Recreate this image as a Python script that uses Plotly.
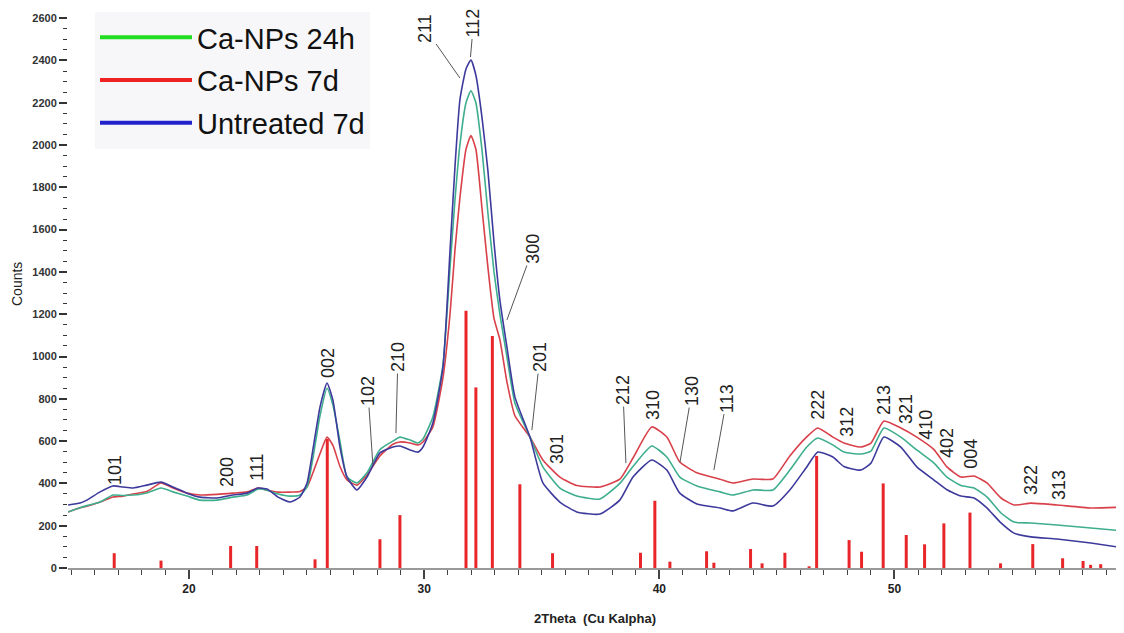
import plotly.graph_objects as go

# ---------------- data ----------------
two_theta = [14.86, 15.37, 15.66, 16.22, 16.77, 17.19, 17.62, 18.21, 18.81, 19.32,
             19.92, 20.47, 21.19, 21.87, 22.47, 22.93, 23.32, 23.79, 24.30, 24.72,
             25.02, 25.27, 25.57, 25.87, 26.12, 26.42, 26.72, 27.14, 27.57, 28.12,
             28.67, 28.97, 29.40, 29.74, 29.95, 30.37, 30.80, 31.10, 31.31, 31.52,
             31.78, 31.99, 32.20, 32.46, 32.71, 32.97, 33.22, 33.52, 33.86, 34.50,
             35.05, 35.77, 36.49, 37.47, 38.32, 38.88, 39.68, 40.32, 40.87, 41.60,
             42.58, 43.13, 43.98, 44.83, 45.55, 46.27, 46.74, 47.38, 47.85, 48.57,
             49.00, 49.55, 50.27, 50.95, 51.68, 52.23, 52.83, 53.38, 53.93, 54.53,
             55.08, 55.80, 56.91, 58.35, 59.76]

untreated_7d = [298, 307, 321, 360, 388, 383, 378, 392, 406, 383,
                354, 335, 331, 345, 354, 378, 373, 335, 312, 336,
                402, 560, 761, 875, 794, 572, 430, 369, 430, 544,
                572, 577, 558, 548, 572, 686, 950, 1500, 1896, 2213,
                2360, 2402, 2330, 2130, 1880, 1540, 1267, 1045, 808, 619,
                402, 312, 265, 255, 321, 430, 511, 463, 354, 303,
                284, 270, 307, 293, 369, 478, 548, 525, 480, 463,
                496, 619, 572, 478, 416, 370, 340, 331, 284, 213,
                165, 147, 137, 118, 95]

ca_nps_24h = [265, 285, 295, 312, 345, 343, 345, 355, 378, 360,
              340, 321, 321, 335, 345, 373, 368, 350, 340, 345,
              383, 520, 720, 850, 770, 600, 430, 402, 450, 560,
              600, 619, 605, 591, 610, 714, 960, 1420, 1740, 2000,
              2200, 2257, 2200, 1976, 1680, 1400, 1200, 1000, 780, 619,
              478, 378, 340, 326, 400, 480, 577, 525, 430, 388,
              360, 345, 369, 369, 463, 572, 615, 582, 548, 539,
              553, 662, 619, 558, 496, 430, 390, 378, 336, 260,
              217, 213, 203, 189, 175]

ca_nps_7d = [265, 285, 292, 312, 336, 340, 350, 362, 402, 378,
             354, 345, 348, 354, 360, 378, 368, 359, 359, 362,
             383, 450, 540, 619, 580, 480, 416, 392, 440, 530,
             585, 596, 591, 582, 596, 667, 900, 1200, 1503, 1750,
             1980, 2045, 1980, 1700, 1423, 1180, 1080, 880, 720, 619,
             511, 430, 390, 383, 420, 520, 667, 619, 501, 450,
             420, 402, 421, 421, 530, 620, 662, 619, 591, 572,
             591, 695, 662, 619, 560, 478, 430, 435, 402, 331,
             298, 307, 298, 284, 288]

# reference pattern sticks
ref_pos = [16.82, 18.81, 21.77, 22.88, 25.36, 25.88, 28.12, 28.97, 31.78, 32.20,
           32.90, 34.07, 35.46, 39.20, 39.81, 40.45, 42.01, 42.32, 43.88, 44.37,
           45.34, 46.37, 46.69, 48.07, 48.60, 49.52, 50.50, 51.28, 52.10, 53.21,
           54.51, 55.88, 57.15, 58.02, 58.34, 58.77]
ref_int = [70, 35, 104, 104, 41, 610, 136, 250, 1217, 854,
           1097, 396, 70, 72, 318, 30, 79, 25, 90, 22,
           72, 8, 530, 132, 77, 400, 156, 112, 211, 262,
           22, 113, 46, 33, 15, 18]

# hkl labels without leader line: (label, 2theta, counts at label centre)
hkl_plain = ["101", "200", "111", "002", "301", "310", "222", "312", "213",
             "321", "410", "402", "004", "322", "313"]
hkl_plain_x = [16.85, 21.62, 22.89, 25.91, 35.65, 39.73, 46.74, 47.97, 49.55,
               50.49, 51.33, 52.23, 53.24, 55.80, 56.99]
hkl_plain_y = [463, 454, 478, 969, 563, 771, 771, 690, 794,
               752, 676, 591, 539, 416, 392]

# hkl labels with a leader line: tip of line (2theta, counts)
hkl_lead = ["102", "210", "211", "112", "300", "201", "212", "130", "113"]
hkl_lead_x = [27.82, 28.80, 31.52, 31.97, 33.52, 34.58, 38.58, 40.88, 42.32]
hkl_lead_y = [487, 638, 2317, 2416, 1173, 652, 496, 501, 463]

series_names = ["Ca-NPs 24h", "Ca-NPs 7d", "Untreated 7d"]

# ---------------- styles ----------------
FONT = "Liberation Sans, Arial, sans-serif"
curve_colors = {"Ca-NPs 7d": "#d8404a", "Ca-NPs 24h": "#3fae8e", "Untreated 7d": "#3d3a9c"}
legend_colors = {"Ca-NPs 24h": "#22dd22", "Ca-NPs 7d": "#ee2222", "Untreated 7d": "#2222cc"}
# leader line offsets (px) from tip to label centre
lead_ax = [-5, 2, -35, 3, 26, 8, -3, 12, 13]
lead_ay = [-74, -76, -50, -34, -71, -73, -73, -71, -72]

# page body has an 8px margin: plot area sits at page x 68..1124, y 8..568
W, H = 1116, 625
ML, MB = 60, 65
PW, PH = W - ML, H - MB

fig = go.Figure()

# reference sticks
sx, sy = [], []
for p, h in zip(ref_pos, ref_int):
    sx += [p, p, None]
    sy += [0, h, None]
fig.add_trace(go.Scatter(x=sx, y=sy, mode="lines", showlegend=False,
                         line=dict(color="#e8262a", width=3), hoverinfo="skip"))

curves = {"Ca-NPs 7d": ca_nps_7d, "Ca-NPs 24h": ca_nps_24h, "Untreated 7d": untreated_7d}
for name in ["Ca-NPs 7d", "Ca-NPs 24h", "Untreated 7d"]:
    fig.add_trace(go.Scatter(x=two_theta, y=curves[name], mode="lines", name=name,
                             showlegend=False,
                             line=dict(color=curve_colors[name], width=1.6,
                                       shape="spline", smoothing=0.5)))

# legend entries
for name in series_names:
    fig.add_trace(go.Scatter(x=[None], y=[None], mode="lines", name=name,
                             legendgroup=name,
                             line=dict(color=legend_colors[name], width=4)))

annotations = []
for t, x, y in zip(hkl_plain, hkl_plain_x, hkl_plain_y):
    annotations.append(dict(x=x, y=y, text=t, showarrow=False, textangle=-90,
                            xanchor="center", yanchor="middle",
                            font=dict(family=FONT, size=18, color="#222")))
for t, x, y, ax, ay in zip(hkl_lead, hkl_lead_x, hkl_lead_y, lead_ax, lead_ay):
    annotations.append(dict(x=x, y=y, text=t, showarrow=True, arrowhead=0,
                            arrowwidth=1, arrowcolor="#555", ax=ax, ay=ay,
                            textangle=-90, standoff=0,
                            font=dict(family=FONT, size=18, color="#222")))
annotations.append(dict(xref="paper", yref="paper", x=(595 - 68) / PW, y=-(618 - 568) / PH,
                        xanchor="center", yanchor="middle",
                        text="2Theta\u00a0\u00a0(Cu Kalpha)", showarrow=False,
                        font=dict(family=FONT, size=13, color="#222", weight="bold")))
annotations.append(dict(xref="paper", yref="paper", x=-(68 - 17) / PW, y=(568 - 284) / PH,
                        xanchor="center", yanchor="middle",
                        text="Counts", showarrow=False, textangle=-90,
                        font=dict(family=FONT, size=14, color="#222")))

fig.update_layout(
    width=W, height=H,
    margin=dict(l=ML, r=0, t=0, b=MB, autoexpand=False),
    plot_bgcolor="white", paper_bgcolor="white",
    showlegend=True,
    legend=dict(x=(95 - 68) / PW, y=1 - 4 / PH, xanchor="left", yanchor="top",
                bgcolor="#f7f7f9", font=dict(family=FONT, size=29, color="#111"),
                itemwidth=92, tracegroupgap=2, itemclick=False),
    annotations=annotations,
)
fig.update_xaxes(range=[14.855, 59.76], dtick=10, tick0=0, ticks="outside", ticklen=9,
                 tickwidth=1.5, tickcolor="#444", showline=True, linecolor="#999",
                 linewidth=1.5, showgrid=False, zeroline=False,
                 tickfont=dict(family=FONT, size=12, color="#222", weight="bold"),
                 minor=dict(dtick=1, tick0=0, ticks="outside", ticklen=5,
                            tickcolor="#444", tickwidth=1.2, showgrid=False))
fig.update_yaxes(range=[0, 2648], dtick=200, tick0=0, ticks="outside", ticklen=8,
                 tickwidth=1.5, tickcolor="#333", showline=False, showgrid=False,
                 zeroline=False,
                 tickfont=dict(family=FONT, size=11, color="#333", weight="bold"),
                 minor=dict(dtick=50, tick0=0, ticks="outside", ticklen=4,
                            tickcolor="#333", tickwidth=1.2, showgrid=False))

fig.write_html("out.html")
